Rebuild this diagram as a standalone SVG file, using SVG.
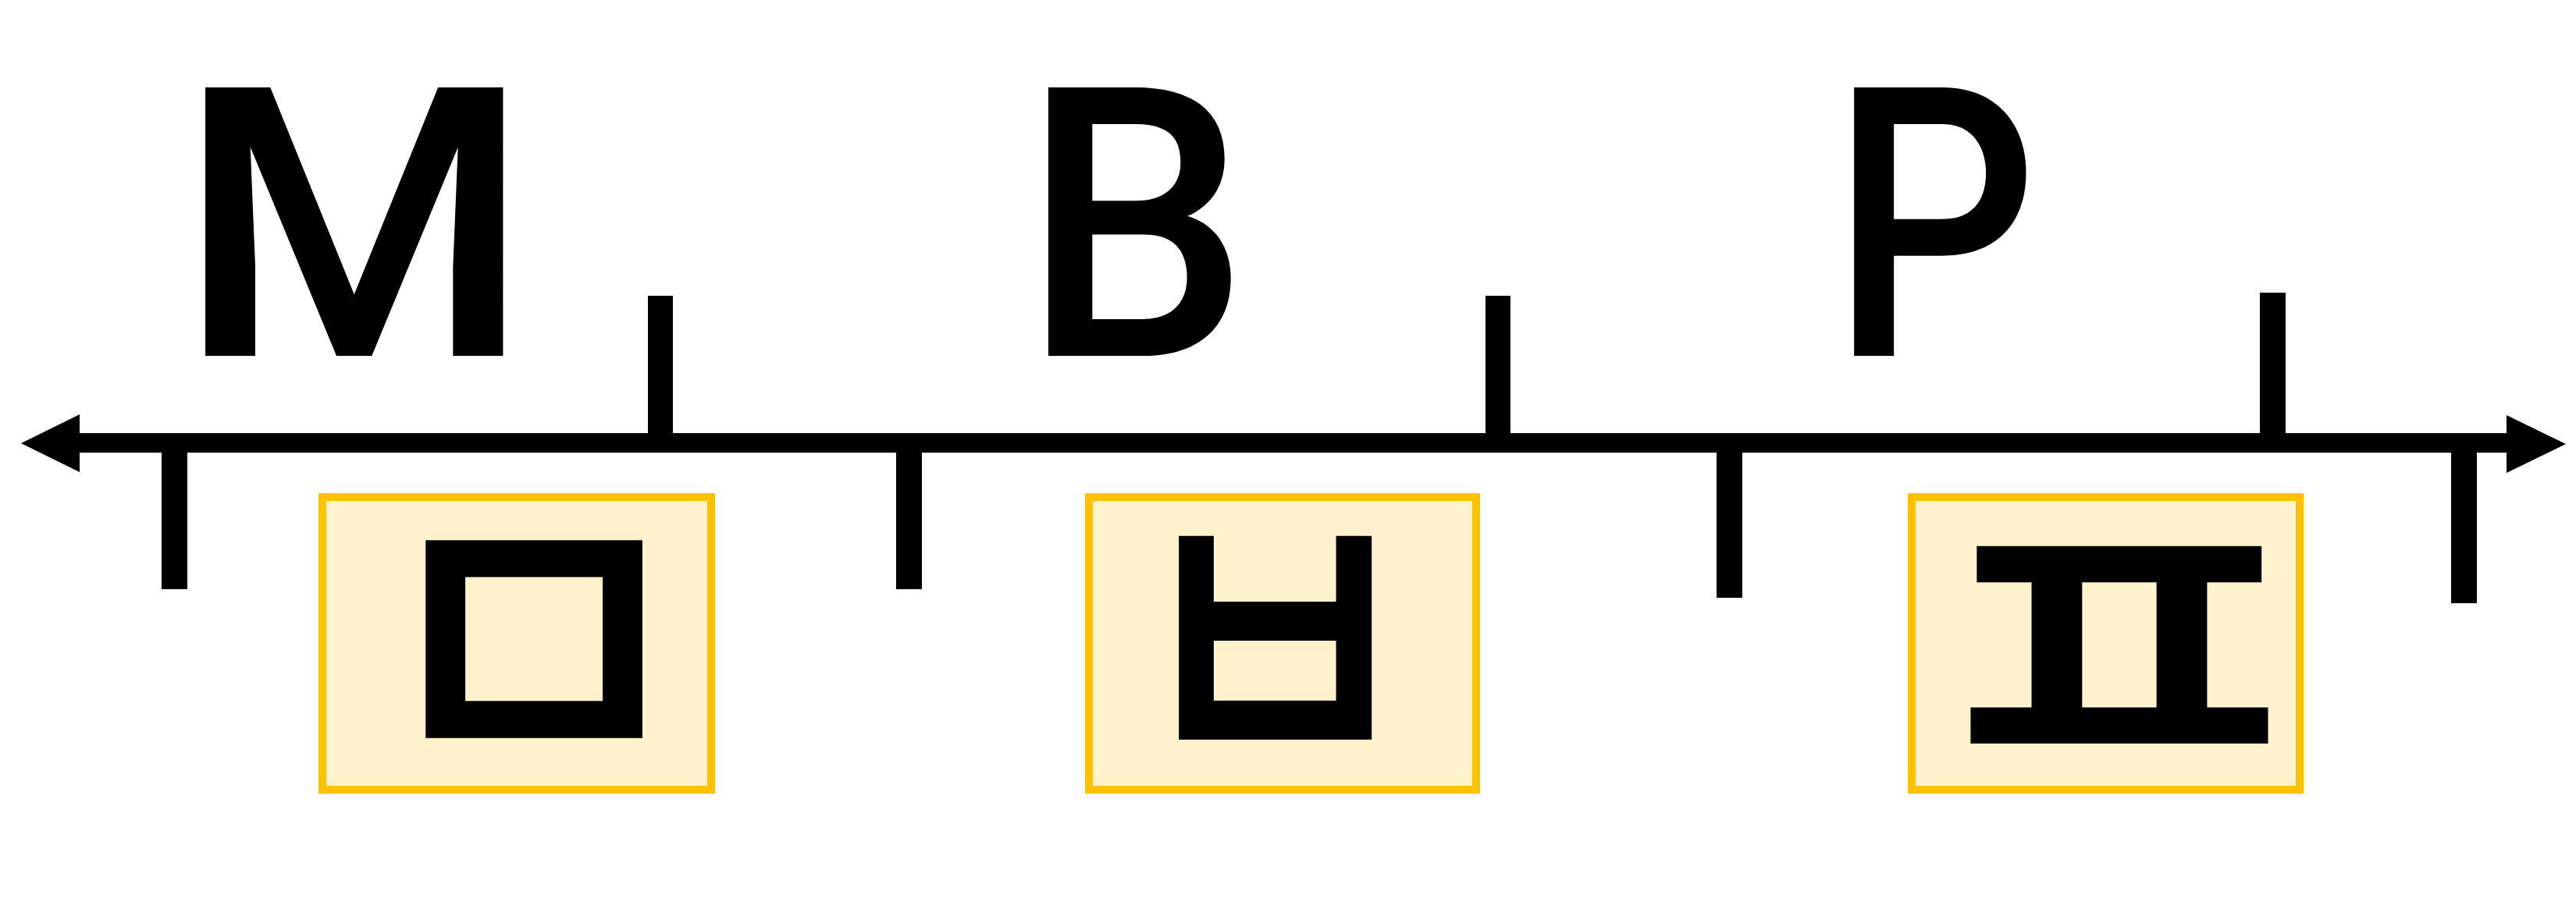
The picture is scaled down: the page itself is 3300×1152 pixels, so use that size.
<svg xmlns="http://www.w3.org/2000/svg" width="3300" height="1152" viewBox="0 0 3300 1152">
<style>
.lat{font-family:Roboto,"Liberation Sans",sans-serif;font-size:484px;font-weight:500;fill:#000;text-anchor:middle}
.box{fill:#FFF2CC;stroke:#FFC000;stroke-width:10}
.ko{font-family:"Liberation Sans","Noto Sans CJK KR",sans-serif;font-size:480px;font-weight:400;fill:#000;stroke:#000;stroke-width:12;stroke-linejoin:miter;text-anchor:middle}
.tick{fill:#000}
</style>
<rect width="3300" height="1152" fill="#fff"/>
<g id="axis">
<rect x="100" y="555" width="3114" height="25" fill="#000"/>
<polygon points="27,568 102,531 102,605" fill="#000"/>
<polygon points="3287,569 3211,532 3211,606" fill="#000"/>
<rect class="tick" x="830" y="379" width="32" height="180"/>
<rect class="tick" x="1903" y="379" width="32" height="180"/>
<rect class="tick" x="2895" y="375" width="33" height="184"/>
<rect class="tick" x="207" y="576" width="33" height="179"/>
<rect class="tick" x="1148" y="576" width="33" height="179"/>
<rect class="tick" x="2199" y="576" width="33" height="190"/>
<rect class="tick" x="3140" y="576" width="33" height="197"/>
</g>
<g id="label-M"><text class="lat" transform="translate(454,456) scale(1.08,1)">M</text></g>
<g id="label-B"><text class="lat" transform="translate(1455,456) scale(0.95,1)">B</text></g>
<g id="label-P"><text class="lat" transform="translate(2478,456) scale(0.86,1)">P</text></g>
<g id="node-mieum">
<rect class="box" x="413" y="637" width="498" height="375"/>
<text class="ko" transform="translate(682,1010) scale(0.98,1.06)">ㅁ</text>
</g>
<g id="node-bieup">
<rect class="box" x="1395" y="637" width="496" height="375"/>
<text class="ko" transform="translate(1632,1010) scale(0.88,1.06)">ㅂ</text>
</g>
<g id="node-pieup">
<rect class="box" x="2449" y="637" width="497" height="375"/>
<text class="ko" transform="translate(2712,1012) scale(1.25,1.04)">ㅍ</text>
</g>
</svg>
